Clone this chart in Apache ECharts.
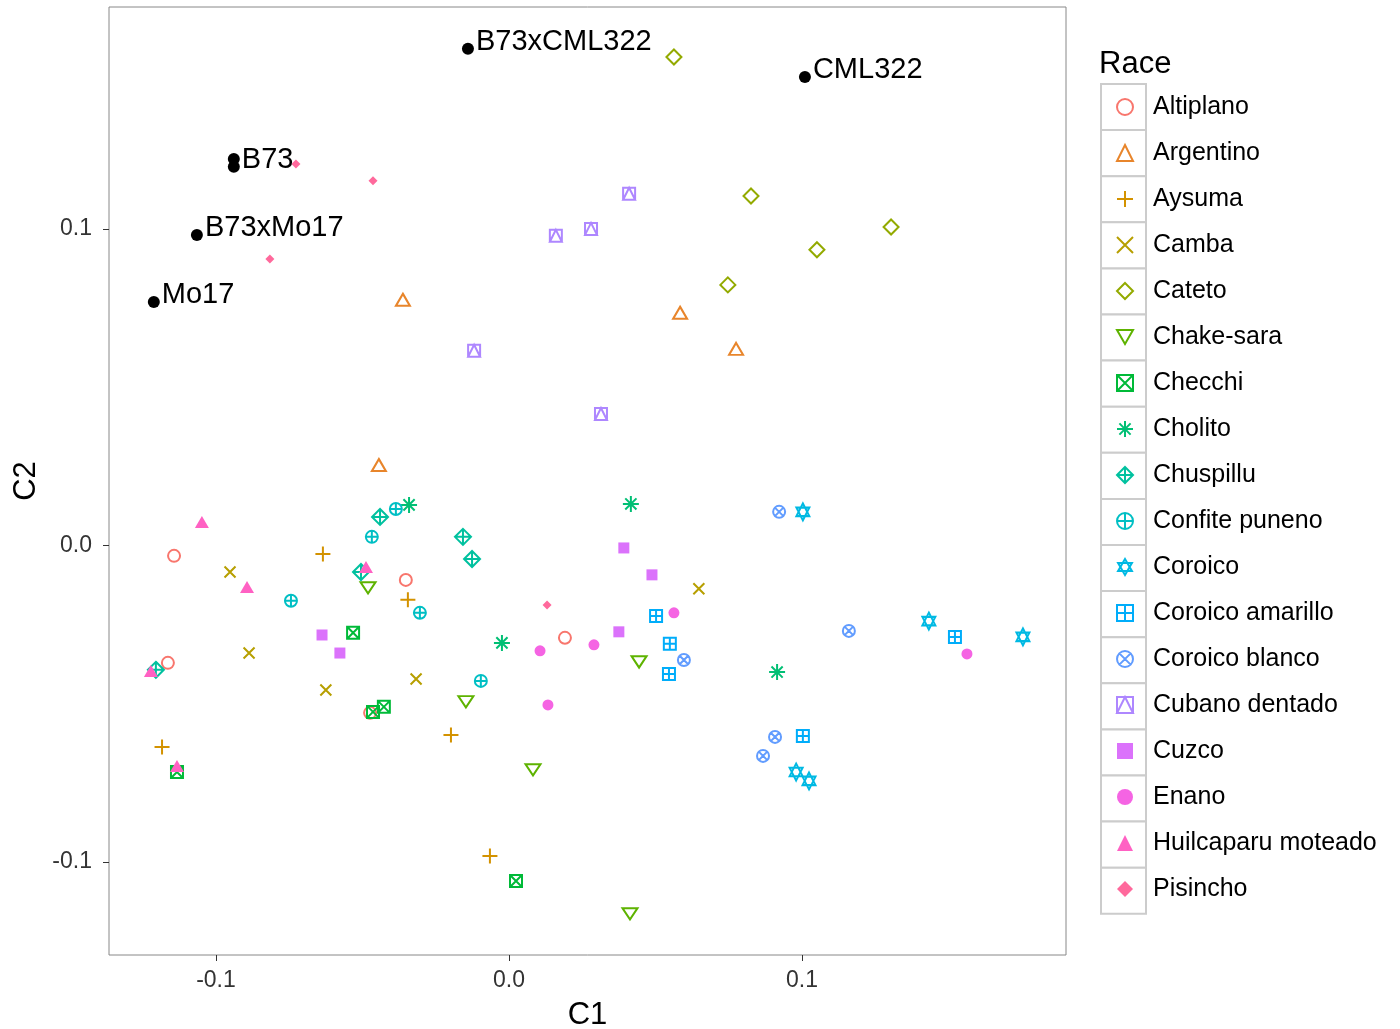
<!DOCTYPE html>
<html>
<head>
<meta charset="utf-8">
<title>C1 vs C2 by race</title>
<script src="https://cdn.jsdelivr.net/npm/echarts@6/dist/echarts.min.js"></script>
<style>
  html, body { margin: 0; padding: 0; background: #fff; }
  #main { width: 1400px; height: 1029px; }
</style>
</head>
<body>
<div id="main"></div>
<script>
// races, in legend order
var races = ['Altiplano', 'Argentino', 'Aysuma', 'Camba', 'Cateto', 'Chake-sara',
  'Checchi', 'Cholito', 'Chuspillu', 'Confite puneno', 'Coroico', 'Coroico amarillo',
  'Coroico blanco', 'Cubano dentado', 'Cuzco', 'Enano', 'Huilcaparu moteado', 'Pisincho'];

// [C1, C2] per race
var altiplano = [[-0.1143, -0.0033], [-0.0352, -0.0109], [-0.1164, -0.0371], [-0.0474, -0.0529], [0.0191, -0.0292]];
var argentino = [[-0.0362, 0.0776], [0.0584, 0.0735], [0.0775, 0.0621], [-0.0444, 0.0254]];
var aysuma = [[-0.0635, -0.0027], [-0.0345, -0.0172], [-0.1184, -0.0637], [-0.0198, -0.0599], [-0.0065, -0.0981]];
var camba = [[-0.0952, -0.0084], [-0.0887, -0.0340], [-0.0625, -0.0457], [-0.0317, -0.0422], [0.0648, -0.0137]];
var cateto = [[0.0563, 0.1543], [0.0826, 0.1104], [0.1304, 0.1006], [0.1051, 0.0934], [0.0747, 0.0823]];
var chakeSara = [[-0.0481, -0.0134], [-0.0147, -0.0494], [0.0444, -0.0368], [0.0082, -0.0709], [0.0413, -0.1164]];
var checchi = [[-0.0532, -0.0276], [-0.0464, -0.0526], [-0.0427, -0.0510], [-0.1133, -0.0716], [0.0024, -0.1060]];
var cholito = [[-0.0341, 0.0128], [0.0416, 0.0131], [-0.0024, -0.0308], [0.0915, -0.0400]];
var chuspillu = [[-0.0440, 0.0090], [-0.0157, 0.0027], [-0.0126, -0.0043], [-0.0505, -0.0084], [-0.1205, -0.0393]];
var confitePuneno = [[-0.0386, 0.0115], [-0.0468, 0.0027], [-0.0744, -0.0175], [-0.0304, -0.0213], [-0.0096, -0.0428]];
var coroico = [[0.1003, 0.0106], [0.1433, -0.0239], [0.1754, -0.0289], [0.0980, -0.0716], [0.1024, -0.0744]];
var coroicoAmarillo = [[0.0502, -0.0223], [0.0549, -0.0311], [0.0546, -0.0406], [0.1522, -0.0289], [0.1003, -0.0602]];
var coroicoBlanco = [[0.0922, 0.0106], [0.0597, -0.0362], [0.1160, -0.0270], [0.0908, -0.0605], [0.0867, -0.0665]];
var cubanoDentado = [[0.0410, 0.1111], [0.0280, 0.1000], [0.0160, 0.0978], [-0.0119, 0.0615], [0.0314, 0.0415]];
var cuzco = [[0.0392, -0.0008], [0.0488, -0.0093], [0.0375, -0.0273], [-0.0638, -0.0283], [-0.0577, -0.0340]];
var enano = [[0.0106, -0.0333], [0.0290, -0.0314], [0.0563, -0.0213], [0.0133, -0.0504], [0.1563, -0.0343]];
var huilcaparu = [[-0.1048, 0.0074], [-0.0894, -0.0131], [-0.0488, -0.0068], [-0.1222, -0.0397], [-0.1133, -0.0697]];
var pisincho = [[-0.0727, 0.1205], [-0.0464, 0.1152], [-0.0816, 0.0905], [0.0130, -0.0188]];

var racePoints = [altiplano, argentino, aysuma, camba, cateto, chakeSara, checchi, cholito,
  chuspillu, confitePuneno, coroico, coroicoAmarillo, coroicoBlanco, cubanoDentado,
  cuzco, enano, huilcaparu, pisincho];

// reference lines, black and labelled
var refNames = ['B73xCML322', 'CML322', '', 'B73', 'B73xMo17', 'Mo17'];
var refPoints = [[-0.0140, 0.1569], [0.1010, 0.1480], [-0.0939, 0.1221], [-0.0939, 0.1196], [-0.1065, 0.0981], [-0.1212, 0.0769]];

var xTicks = [-0.1, 0, 0.1];
var yTicks = [-0.1, 0, 0.1];

var raceColors = ['#F8766D', '#E8852B', '#D39200', '#B79F00', '#93AA00', '#5EB300',
  '#00BA38', '#00BF74', '#00C19F', '#00BFC4', '#00B9E3', '#00ADFA',
  '#619CFF', '#AE87FF', '#DB72FB', '#F564E3', '#FF61C3', '#FF699C'];

// ggplot pch 1..18
var circ = 'M-1,0A1,1,0,1,1,1,0A1,1,0,1,1,-1,0Z';
var sq = 'M-1,-1L1,-1L1,1L-1,1Z';
var shapes = [
  { symbol: 'circle', size: 12 },
  { symbol: 'triangle', size: [14, 12] },
  { symbol: 'path://M0,-1L0,1M-1,0L1,0', size: 15 },
  { symbol: 'path://M-1,-1L1,1M-1,1L1,-1', size: 11 },
  { symbol: 'diamond', size: 15 },
  { symbol: 'path://M-0.866,-0.5L0.866,-0.5L0,1Z', size: [15, 13] },
  { symbol: 'path://' + sq + 'M-1,-1L1,1M-1,1L1,-1', size: 12 },
  { symbol: 'path://M0,-1L0,1M-1,0L1,0M-0.7,-0.7L0.7,0.7M-0.7,0.7L0.7,-0.7', size: 16 },
  { symbol: 'path://M0,-1L1,0L0,1L-1,0ZM0,-1L0,1M-1,0L1,0', size: 16 },
  { symbol: 'path://' + circ + 'M0,-1L0,1M-1,0L1,0', size: 12 },
  { symbol: 'path://M0,-1L0.866,0.5L-0.866,0.5ZM0,1L0.866,-0.5L-0.866,-0.5Z', size: [15, 17] },
  { symbol: 'path://' + sq + 'M0,-1L0,1M-1,0L1,0', size: 12 },
  { symbol: 'path://' + circ + 'M-0.707,-0.707L0.707,0.707M-0.707,0.707L0.707,-0.707', size: 12 },
  { symbol: 'path://' + sq + 'M0,-1L1,1L-1,1Z', size: 12 },
  { symbol: 'rect', size: 11, filled: true },
  { symbol: 'circle', size: 11, filled: true },
  { symbol: 'triangle', size: [14, 12], filled: true },
  { symbol: 'diamond', size: 9, filled: true }
];

var font = 'Liberation Sans, Arial, Helvetica, sans-serif';

var series = races.map(function (name, i) {
  var s = shapes[i];
  return {
    name: name,
    type: 'scatter',
    data: racePoints[i],
    symbol: s.symbol,
    symbolSize: s.size,
    symbolKeepAspect: true,
    itemStyle: s.filled
      ? { color: raceColors[i], opacity: 1 }
      : { color: 'rgba(0,0,0,0)', borderColor: raceColors[i], borderWidth: 2, opacity: 1 },
    emphasis: { disabled: true }
  };
});

series.push({
  name: 'reference',
  type: 'scatter',
  symbol: 'circle',
  symbolSize: 12,
  z: 5,
  itemStyle: { color: '#000', opacity: 1 },
  data: refPoints.map(function (p, i) { return { name: refNames[i], value: p }; }),
  label: {
    show: true, position: 'right', distance: 2, offset: [0, -7],
    formatter: '{b}', fontSize: 29, color: '#000', fontFamily: font
  },
  emphasis: { disabled: true }
});

var chart = echarts.init(document.getElementById('main'));
chart.setOption({
  animation: false,
  backgroundColor: '#fff',
  textStyle: { fontFamily: font },
  title: {
    text: 'Race', left: 1099, top: 49, padding: 0,
    textStyle: { fontSize: 31, fontWeight: 'normal', color: '#000', fontFamily: font }
  },
  grid: {
    left: 109, right: 334, top: 7, bottom: 74,
    outerBoundsMode: 'none',
    show: true, borderColor: '#888', borderWidth: 1
  },
  xAxis: {
    type: 'value', min: -0.1365, max: 0.1901,
    name: 'C1', nameLocation: 'middle', nameGap: 45,
    nameTextStyle: { fontSize: 31, color: '#000' },
    splitLine: { show: false },
    axisLine: { show: false, onZero: false },
    axisTick: { show: true, length: 6, lineStyle: { color: '#333' }, customValues: xTicks },
    axisLabel: {
      customValues: xTicks, fontSize: 23, color: '#333', margin: 14,
      formatter: function (v) { return v.toFixed(1); }
    }
  },
  yAxis: {
    type: 'value', min: -0.1294, max: 0.1701,
    name: 'C2', nameLocation: 'middle', nameGap: 64,
    nameTextStyle: { fontSize: 31, color: '#000' },
    splitLine: { show: false },
    axisLine: { show: false, onZero: false },
    axisTick: { show: true, length: 6, lineStyle: { color: '#333' }, customValues: yTicks },
    axisLabel: {
      customValues: yTicks, fontSize: 23, color: '#333', margin: 17,
      formatter: function (v) { return v.toFixed(1); }
    }
  },
  legend: {
    orient: 'vertical', left: 1116, top: 92, padding: 0,
    itemWidth: 16, itemHeight: 16, itemGap: 16,
    selectedMode: false,
    data: races,
    textStyle: { fontSize: 25, lineHeight: 30, color: '#000', padding: [0, 0, 0, 15], fontFamily: font }
  },
  // legend key boxes
  graphic: races.map(function (r, i) {
    return {
      type: 'rect', z: 0,
      shape: { x: 1101, y: 84 + i * 46.1, width: 45, height: 46.1 },
      style: { fill: '#fff', stroke: '#cccccc', lineWidth: 2 }
    };
  }),
  series: series
});
</script>
</body>
</html>
